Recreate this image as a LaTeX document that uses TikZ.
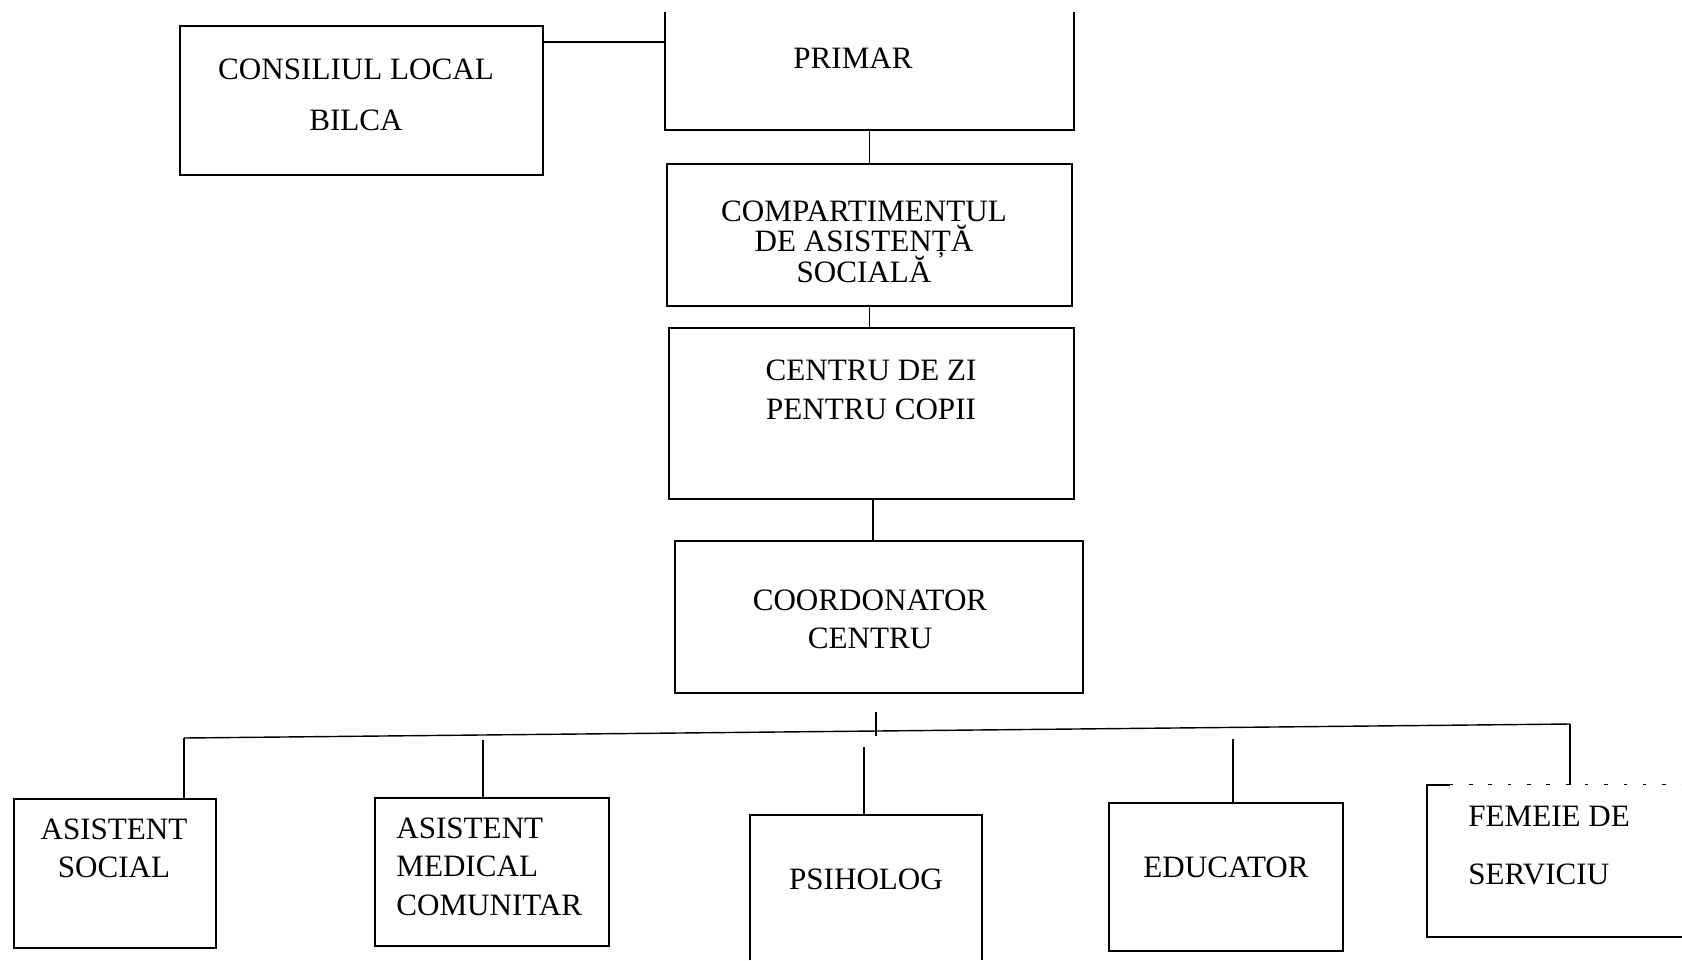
\documentclass[tikz,border=0pt]{standalone}
\usepackage{fontspec}
\setmainfont{Liberation Serif}
\usepackage{tikz}

\begin{document}
\begin{tikzpicture}[x=0.02cm,y=-0.02cm]
        \tikzstyle{every node}=[inner sep=0pt, font=\fontsize{17.7}{22}\selectfont]
        \tikzstyle{box}=[draw, line width=1pt, rectangle]
        \tikzstyle{txt}=[align=center]
        \tikzstyle{link}=[line width=0.8pt]

        \useasboundingbox (0,0) rectangle (1682,960);

        % upper chain
        \node (consiliu) [box, minimum width=7.26cm, minimum height=2.98cm] at (361.5,100.5) {};
        \node (primar)   [minimum width=8.18cm, minimum height=2.36cm] at (869.5,71) {};
        \node (compart)  [box, minimum width=8.1cm, minimum height=2.84cm] at (869.5,235) {};
        \node (centru)   [box, minimum width=8.1cm, minimum height=3.42cm] at (871.5,413.5) {};
        \node (coord)    [box, minimum width=8.16cm, minimum height=3.04cm] at (879,617) {};

        % staff
        \node (asoc)   [box, minimum width=4.04cm, minimum height=2.98cm] at (115,873.5) {};
        \node (amed)   [box, minimum width=4.68cm, minimum height=2.96cm] at (492,872) {};
        \node (psih)   [minimum width=4.64cm, minimum height=2.9cm] at (866,887.5) {};
        \node (educ)   [box, minimum width=4.68cm, minimum height=2.96cm] at (1226,877) {};
        \node (femeie) [minimum width=5.1cm, minimum height=3.04cm] at (1554.5,861) {};

        \draw[line width=1pt] (primar.north west) -- (primar.south west) -- (primar.south east) -- (primar.north east);
        \draw[line width=1pt] (psih.south west) -- (psih.north west) -- (psih.north east) -- (psih.south east);
        \draw[line width=1pt] ([xshift=0.46cm]femeie.north west) -- (femeie.north west) -- (femeie.south west) -- (femeie.south east);
        \draw[line width=0.6pt, dash pattern=on 2pt off 9pt] ([xshift=0.46cm]femeie.north west) -- (femeie.north east);

        % texts
        \node (consiliu t) [txt, font=\fontsize{17.7}{29}\selectfont] at (356,94.5) {CONSILIUL LOCAL\\BILCA};
        \node (primar t)   [txt] at (853,58) {PRIMAR};
        \node (compart t)  [txt, font={\fontsize{17.7}{17.3}\selectfont\lineskiplimit=-20pt}] at (864,241.5) {COMPARTIMENTUL\\DE ASISTENȚĂ\\SOCIALĂ};
        \node (centru t)   [txt] at (871,390) {CENTRU DE ZI\\PENTRU COPII};
        \node (coord t)    [txt] at (870,619.5) {COORDONATOR\\CENTRU};
        \node (asoc t)     [txt] at (114,848.5) {ASISTENT\\SOCIAL};
        \node (amed t)     [align=left, anchor=west] at (396,866.5) {ASISTENT\\MEDICAL\\COMUNITAR};
        \node (psih t)     [txt] at (866,879) {PSIHOLOG};
        \node (educ t)     [txt] at (1226,867) {EDUCATOR};
        \node (femeie t)   [align=left, anchor=west, font=\fontsize{17.7}{33.5}\selectfont] at (1468,845.5) {FEMEIE DE\\SERVICIU};

        % connectors
        \draw[link] ([yshift=-0.34cm]consiliu.north east) -- ([yshift=-0.34cm]consiliu.north east -| primar.west);
        \draw[link] (primar.south) -- (primar.south |- compart.north);
        \draw[link] (compart.south) -- (compart.south |- centru.north);
        \draw[link] ([xshift=0.03cm]centru.south) -- ([xshift=0.03cm]centru.south |- coord.north);

        \coordinate (bus l) at (184,738);
        \coordinate (bus r) at (1570,724);
        \draw[link] (bus l) -- (bus r);
        \draw[link] ([xshift=-0.06cm,yshift=-0.36cm]coord.south) -- ++(0,24);
        \draw[link] (bus l) -- (bus l |- asoc.north);
        \draw[link] ([xshift=-0.18cm]amed.north) -- ++(0,-57);
        \draw[link] ([xshift=-0.04cm]psih.north) -- ++(0,-68);
        \draw[link] ([xshift=0.14cm]educ.north) -- ++(0,-63);
        \draw[link] (bus r) -- (bus r |- femeie.north);
\end{tikzpicture}
\end{document}
